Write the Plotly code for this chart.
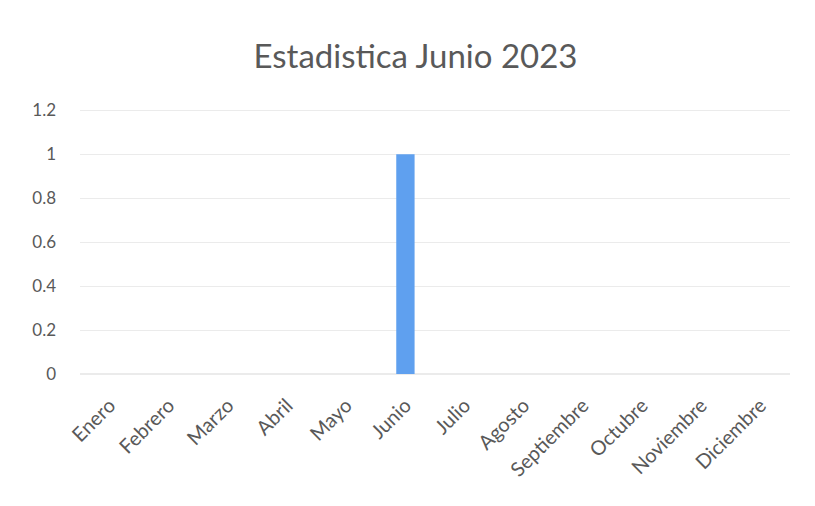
import plotly.graph_objects as go

meses = ["Enero", "Febrero", "Marzo", "Abril", "Mayo", "Junio", "Julio",
         "Agosto", "Septiembre", "Octubre", "Noviembre", "Diciembre"]
valores = [0, 0, 0, 0, 0, 1, 0, 0, 0, 0, 0, 0]
y_ticks = [0, 0.2, 0.4, 0.6, 0.8, 1, 1.2]
y_labels = ["0", "0.2", "0.4", "0.6", "0.8", "1", "1.2"]

fig = go.Figure(go.Bar(
    x=meses, y=valores,
    marker=dict(color="#5fa0ef", line=dict(width=0)),
    width=0.31,
))

fig.update_layout(
    width=815, height=506,
    paper_bgcolor="white", plot_bgcolor="white",
    margin=dict(l=72, r=33, t=100, b=140),
    title=dict(text="Estadistica Junio 2023", x=0.5, xanchor="center",
               y=0.905, yanchor="middle",
               font=dict(family="Lato", size=33, color="#595959")),
    font=dict(family="Lato", color="#595959", size=17),
    showlegend=False,
)
fig.update_xaxes(tickangle=-45, showgrid=False, showline=False, ticks="",
                 ticklabelstandoff=15,
                 tickfont=dict(size=20, color="#595959"))
fig.update_yaxes(range=[0, 1.21], tickvals=y_ticks, ticktext=y_labels,
                 showgrid=True, gridcolor="#ebebeb", gridwidth=1,
                 zeroline=True, zerolinecolor="#ebebeb", showline=False,
                 ticks="", ticklabelstandoff=23,
                 tickfont=dict(size=17, color="#595959"))

fig.write_html("out.html")
